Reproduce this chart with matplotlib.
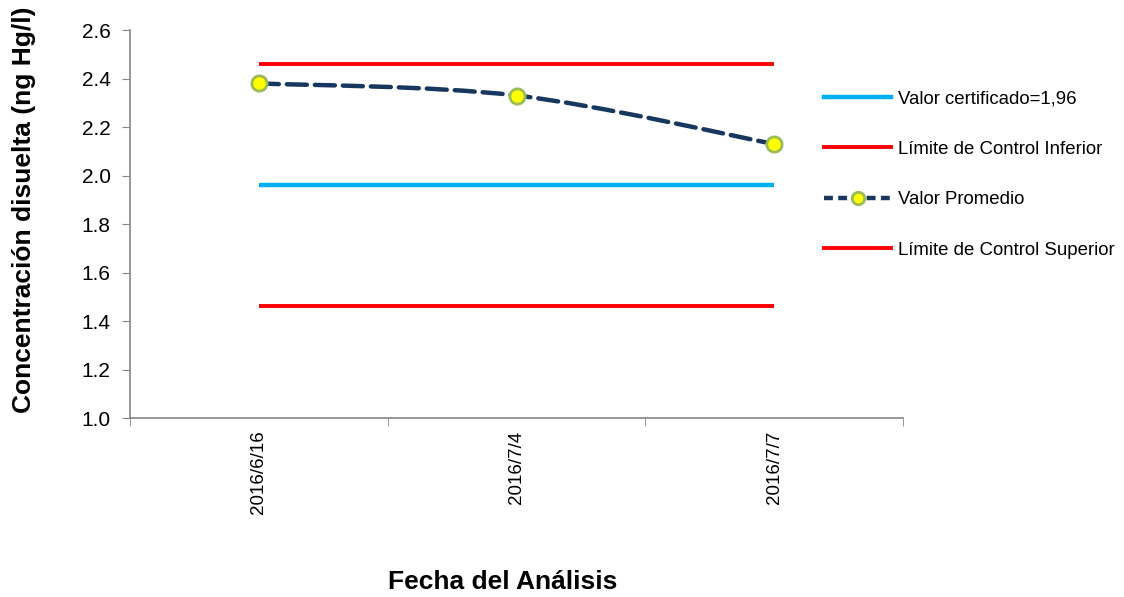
import numpy as np
import matplotlib.pyplot as plt
from matplotlib.path import Path
from matplotlib.patches import PathPatch
from matplotlib.lines import Line2D

plt.rcParams['font.family'] = ['Liberation Sans', 'DejaVu Sans']

# Data
fechas = ["2016/6/16", "2016/7/4", "2016/7/7"]
valor_promedio = [2.38, 2.33, 2.13]
valor_certificado = [1.96, 1.96, 1.96]
limite_inferior = [1.46, 1.46, 1.46]
limite_superior = [2.46, 2.46, 2.46]

x = np.arange(len(fechas))

fig = plt.figure(figsize=(11.24, 5.97), dpi=100)
ax = fig.add_axes([0.1157, 0.2998, 0.6877, 0.6499])

ax.plot(x, valor_certificado, color="#00B0F0", lw=3.2, solid_capstyle="butt")
ax.plot(x, limite_superior, color="#FF0000", lw=2.8, solid_capstyle="butt")
ax.plot(x, limite_inferior, color="#FF0000", lw=2.8, solid_capstyle="butt")

# smoothed dashed line (Excel-style), Catmull-Rom -> Bezier
pts = np.column_stack([x, valor_promedio]).astype(float)
ext = np.vstack([pts[0], pts, pts[-1]])
verts = [tuple(pts[0])]
codes = [Path.MOVETO]
for i in range(1, len(ext) - 2):
    p0, p1, p2, p3 = ext[i - 1], ext[i], ext[i + 1], ext[i + 2]
    c1 = p1 + (p2 - p0) / 6
    c2 = p2 - (p3 - p1) / 6
    verts += [tuple(c1), tuple(c2), tuple(p2)]
    codes += [Path.CURVE4] * 3
dash_col = "#17375E"
patch = PathPatch(Path(verts, codes), fill=False, edgecolor=dash_col, lw=3.2,
                  linestyle=(0, (4.5, 1.8)), capstyle="round")
ax.add_patch(patch)
ax.plot(x, valor_promedio, ls="none", marker="o", ms=11, mfc="#FFFF00",
        mec="#9BBB59", mew=2, zorder=5)

ax.set_xlim(-0.5, 2.5)
ax.set_ylim(1.0, 2.6)
yt = np.arange(1.0, 2.61, 0.2)
ax.set_yticks(yt)
ax.set_yticklabels([f"{v:.1f}" for v in yt])
ax.set_xticks(x)
ax.set_xticklabels(fechas, rotation=90)
ax.set_xticks([-0.5, 0.5, 1.5, 2.5], minor=True)
ax.tick_params(axis="x", which="major", length=0, pad=9, labelsize=13.5)
ax.tick_params(axis="x", which="minor", length=6, color="#868686")
ax.tick_params(axis="y", length=6, color="#868686", labelsize=15, pad=8)

for s in ["top", "right"]:
    ax.spines[s].set_visible(False)
for s in ["left", "bottom"]:
    ax.spines[s].set_color("#868686")
    ax.spines[s].set_linewidth(1.2)

fig.text(24 / 1124, 0.648, "Concentración disuelta (ng Hg/l)", rotation=90,
         ha="center", va="center", fontsize=19, fontweight="bold")
fig.text(503 / 1124, 1 - 582 / 597, "Fecha del Análisis", ha="center", va="center",
         fontsize=19, fontweight="bold")

handles = [
    Line2D([], [], color="#00B0F0", lw=3.2),
    Line2D([], [], color="#FF0000", lw=2.8),
    Line2D([], [], color=dash_col, lw=3.2, ls=(0, (2, 1.2)), marker="o", ms=9,
           mfc="#FFFF00", mec="#9BBB59", mew=2, markevery=[1]),
    Line2D([], [], color="#FF0000", lw=2.8),
]
for h in handles:
    h.set_xdata([0, 0.5, 1])
    h.set_ydata([0, 0, 0])
labels = ["Valor certificado=1,96", "Límite de Control Inferior",
          "Valor Promedio", "Límite de Control Superior"]
fig.legend(handles, labels, loc="upper left", bbox_to_anchor=(0.7185, 0.877),
           frameon=False, fontsize=13.4, handlelength=3.6, handletextpad=0.37,
           labelspacing=1.8)

fig.savefig("out.png", dpi=100)
